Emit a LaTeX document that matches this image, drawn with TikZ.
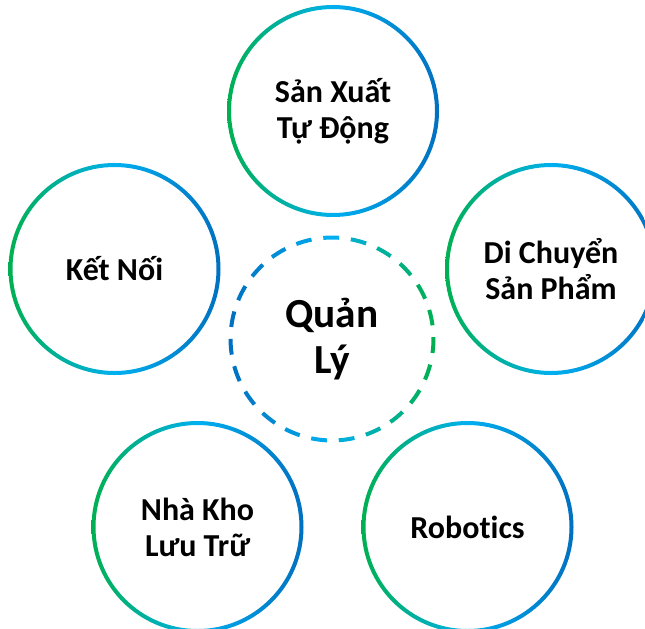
\documentclass[tikz,border=0pt]{standalone}
\usepackage{fontspec}
\setmainfont{Carlito}[Ligatures={NoCommon,NoRare,NoContextual}]
\definecolor{cg}{HTML}{00B050}
\definecolor{cc}{HTML}{00B0F0}
\definecolor{cb}{HTML}{0070C0}
\tikzset{
  lbl/.style={font=\fontsize{24}{27}\selectfont\bfseries, align=center, text=black, inner sep=0pt},
  biglbl/.style={font=\fontsize{31}{35}\selectfont\bfseries, align=center, text=black, inner sep=0pt},
  ringshade/.style={even odd rule, left color=cg, right color=cb, middle color=cc},
}
\newcommand\gradring[1]{\shade[ringshade] (#1) circle (79.5pt) (#1) circle (76.5pt);}
\begin{document}
\begin{tikzpicture}[x=0.75pt,y=-0.75pt]
\useasboundingbox (0,0) rectangle (645,628);
\fill[white] (0,0) rectangle (645,628);
\clip (0,0) rectangle (645,628);
\node[lbl] (T) at (333,111) {Sản Xuất\\Tự Động};
\node[lbl] (K) at (114.5,269) {Kết Nối};
\node[lbl] (D) at (551,269) {Di Chuyển\\Sản Phẩm};
\node[lbl] (N) at (197.5,527) {Nhà Kho\\Lưu Trữ};
\node[lbl] (R) at (467.5,527) {Robotics};
\node[biglbl] (Q) at (332,339) {Quản\\Lý};
\gradring{T}
\gradring{K}
\gradring{D}
\gradring{N}
\gradring{R}
\foreach \i in {0,...,22}{
  \pgfmathsetmacro\a{86+\i*15.652}
  \pgfmathsetmacro\m{100*cos(\a+4.47)}
  \pgfmathsetmacro\p{abs(\m)}
  \ifdim\m pt<0pt
    \colorlet{dc}{cb!\p!cc}
  \else
    \colorlet{dc}{cg!\p!cc}
  \fi
  \draw[dc, line width=3pt] ([shift={(\a:76.1pt)}]Q.center) arc[start angle=\a, delta angle=8.94, radius=76.1pt];
}
\end{tikzpicture}
\end{document}
